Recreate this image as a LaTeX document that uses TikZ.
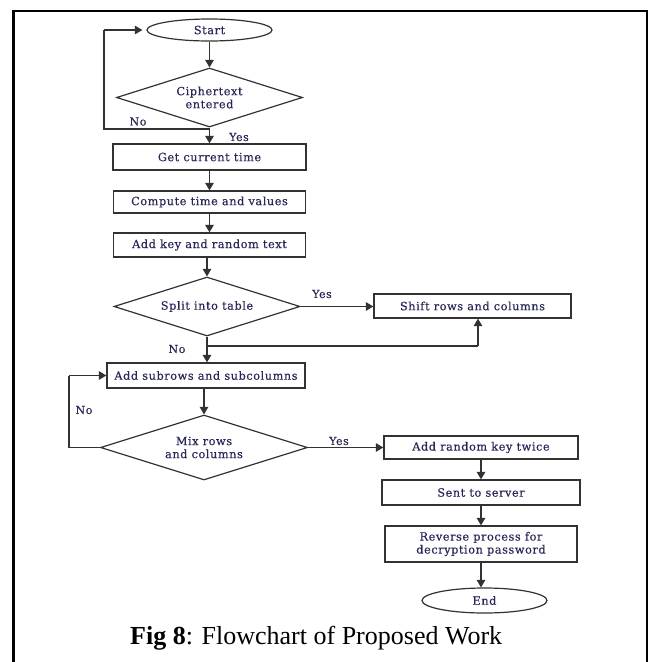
\documentclass[tikz,border=0pt]{standalone}
\usepackage{fontspec}
\setmainfont{Liberation Serif}
\newfontfamily\flowfont[LetterSpace=5,FakeBold=0.4]{DejaVu Serif}
\usetikzlibrary{shapes.geometric,arrows.meta}
\definecolor{ink}{RGB}{40,40,88}
\definecolor{edge}{RGB}{50,50,50}
\tikzset{
  stepbox/.style={draw=edge, line width=1.3pt, rectangle, inner sep=0pt, text=ink,
    font=\flowfont\fontsize{11.3}{13}\selectfont, align=center},
  decide/.style={draw=edge, line width=1.2pt, diamond, shape aspect=3, inner sep=0pt, text=ink,
    font=\flowfont\fontsize{11.3}{13}\selectfont, align=center},
  terminal/.style={draw=edge, line width=1.2pt, ellipse, inner sep=0pt, text=ink,
    font=\flowfont\fontsize{11.3}{13}\selectfont},
  flow/.style={draw=edge, line width=1.4pt, -{Triangle[length=7.5pt,width=8.5pt]}},
  link/.style={draw=edge, line width=1.4pt},
  lbl/.style={text=ink, font=\flowfont\fontsize{11}{12}\selectfont, inner sep=0pt},
}
\begin{document}
\begin{tikzpicture}[x=1pt,y=-1pt]
\useasboundingbox (0,0) rectangle (653,662);
% outer frame, open at the bottom
\draw[line width=2.6pt] (13.5,680) -- (13.5,11) -- (647,11) -- (647,680);

% nodes of the flowchart
\node[terminal, minimum width=125pt, minimum height=22pt] (start) at (209.5,30) {Start};
\node[decide, minimum width=186pt, minimum height=59pt] (cipher) at (209.5,97.5) {Ciphertext\\entered};
\node[stepbox, minimum width=193pt, minimum height=26pt] (gettime) at (209.5,157) {Get current time};
\node[stepbox, minimum width=192pt, minimum height=22pt] (compute) at (209.5,202) {Compute time and values};
\node[stepbox, minimum width=192pt, minimum height=24pt] (addkey) at (209.5,245) {Add key and random text};
\node[decide, minimum width=186pt, minimum height=59pt] (split) at (207,306.5) {Split into table};
\node[stepbox, minimum width=197pt, minimum height=24pt] (shift) at (472.5,306) {Shift rows and columns};
\node[stepbox, minimum width=198pt, minimum height=25pt] (subrows) at (206,375.5) {Add subrows and subcolumns};
\node[decide, minimum width=207pt, minimum height=65pt] (mix) at (204,447.5) {Mix rows\\and columns};
\node[stepbox, minimum width=194pt, minimum height=23pt] (addrand) at (481,447.5) {Add random key twice};
\node[stepbox, minimum width=198pt, minimum height=25pt] (sent) at (481,492.5) {Sent to server};
\node[stepbox, minimum width=192pt, minimum height=36pt] (reverse) at (481,544) {Reverse process for\\decryption password};
\node[terminal, minimum width=125pt, minimum height=25pt] (end) at (484.5,600.5) {End};

% caption
\node[anchor=base west, inner sep=0pt, font=\fontsize{26}{30}\selectfont] (caption) at (130,644)
  {\textbf{Fig 8}: Flowchart of Proposed Work};

% turning points of the connectors
\coordinate (j1) at (209.5,129);
\coordinate (c1) at (104,129);
\coordinate (c2) at (104,30);
\coordinate (j2) at (207,346);
\coordinate (j3) at (478,346);
\coordinate (m1) at (69,447.5);
\coordinate (m2) at (69,375.5);

% connectors
\draw[flow] (start) -- (cipher.north);
\draw[flow] (cipher.south) -- (gettime.north);
\draw[link] (j1) -- (c1) -- (c2);
\draw[flow, shorten >=4pt] (c2) -- (start.west);
\draw[flow] (gettime.south) -- (compute.north);
\draw[flow] (compute.south) -- (addkey.north);
\draw[flow] (addkey.south -| split.north) -- (split.north);
\draw[flow] (split.east) -- (shift.west |- split.east);
\draw[flow] (split.south) -- (split.south |- subrows.north);
\draw[link] (j2) -- (j3);
\draw[flow] (j3) -- (j3 |- shift.south);
\draw[flow] (subrows.south -| mix.north) -- (mix.north);
\draw[link] (mix.west) -- (m1) -- (m2);
\draw[flow] (m2) -- (subrows.west);
\draw[flow] (mix.east) -- (addrand.west);
\draw[flow] (addrand.south) -- (sent.north);
\draw[flow] (sent.south) -- (reverse.north);
\draw[flow] (reverse.south) -- (reverse.south |- end.north);

% branch labels
\node[lbl] (no1) at (138,121.5) {No};
\node[lbl] (yes1) at (239,137) {Yes};
\node[lbl] (yes2) at (322,294) {Yes};
\node[lbl] (no2) at (177,349) {No};
\node[lbl] (no3) at (84,410) {No};
\node[lbl] (yes3) at (339,441) {Yes};
\end{tikzpicture}
\end{document}
